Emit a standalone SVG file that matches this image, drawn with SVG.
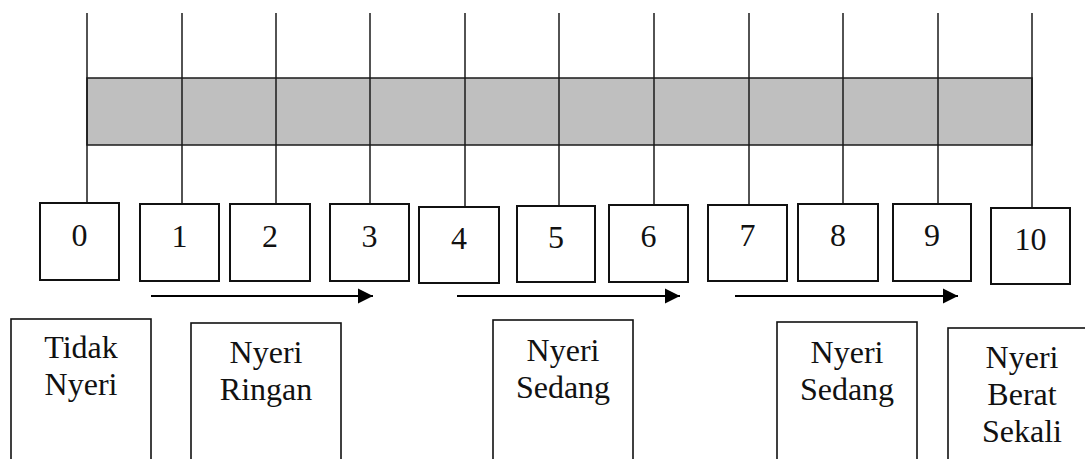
<svg xmlns="http://www.w3.org/2000/svg" width="1085" height="459" viewBox="0 0 1085 459">
  <style>
    .tick { stroke: #1a1a1a; stroke-width: 1.5; fill: none; }
    .band { fill: #bfbfbf; stroke: #1a1a1a; stroke-width: 1.5; }
    .num-box { fill: #ffffff; stroke: #111111; stroke-width: 2; }
    .cat-box { fill: #ffffff; stroke: #111111; stroke-width: 1.6; }
    .arrow { stroke: #000000; stroke-width: 2.2; fill: none; marker-end: url(#head); }
    .lbl { font-size: 32px; fill: #111111; text-anchor: middle; }
  </style>
  <defs>
    <marker id="head" markerUnits="userSpaceOnUse" markerWidth="16" markerHeight="16" refX="15" refY="8" orient="auto">
      <path d="M0,0.5 L15,8 L0,15.5 Z" fill="#000000"/>
    </marker>
  </defs>

  <!-- scale band -->
  <rect class="band" x="87" y="78" width="945" height="67"/>

  <!-- ticks from the top edge down to each number box, and the range arrows -->
  <g id="connectors">
    <line class="tick" x1="87" y1="13" x2="87" y2="203"/>
    <line class="tick" x1="182" y1="13" x2="182" y2="204"/>
    <line class="tick" x1="276" y1="13" x2="276" y2="204"/>
    <line class="tick" x1="370" y1="13" x2="370" y2="204"/>
    <line class="tick" x1="465" y1="13" x2="465" y2="207"/>
    <line class="tick" x1="559" y1="13" x2="559" y2="206"/>
    <line class="tick" x1="654" y1="13" x2="654" y2="205"/>
    <line class="tick" x1="749" y1="13" x2="749" y2="205"/>
    <line class="tick" x1="843" y1="13" x2="843" y2="204"/>
    <line class="tick" x1="938" y1="13" x2="938" y2="204"/>
    <line class="tick" x1="1032" y1="13" x2="1032" y2="208"/>
    <line class="arrow" x1="151" y1="296" x2="373" y2="296"/>
    <line class="arrow" x1="457" y1="296" x2="680" y2="296"/>
    <line class="arrow" x1="735" y1="296" x2="958" y2="296"/>
  </g>

  <!-- all labels share one serif face -->
  <g style="font-family: 'Liberation Serif', 'DejaVu Serif', serif">
    <!-- number boxes -->
    <g id="n0"><rect class="num-box" x="40" y="203" width="79" height="77"/><text class="lbl" x="79.5" y="246">0</text></g>
    <g id="n1"><rect class="num-box" x="140" y="204" width="79" height="77"/><text class="lbl" x="179.5" y="247">1</text></g>
    <g id="n2"><rect class="num-box" x="230" y="204" width="80" height="77"/><text class="lbl" x="270" y="247">2</text></g>
    <g id="n3"><rect class="num-box" x="330" y="204" width="79" height="77"/><text class="lbl" x="369.5" y="247">3</text></g>
    <g id="n4"><rect class="num-box" x="419" y="207" width="80" height="76"/><text class="lbl" x="459" y="249">4</text></g>
    <g id="n5"><rect class="num-box" x="517" y="206" width="78" height="76"/><text class="lbl" x="556" y="248">5</text></g>
    <g id="n6"><rect class="num-box" x="609" y="205" width="79" height="77"/><text class="lbl" x="648.5" y="247">6</text></g>
    <g id="n7"><rect class="num-box" x="708" y="205" width="79" height="76"/><text class="lbl" x="747.5" y="246">7</text></g>
    <g id="n8"><rect class="num-box" x="798" y="204" width="80" height="77"/><text class="lbl" x="838" y="246">8</text></g>
    <g id="n9"><rect class="num-box" x="893" y="204" width="78" height="77"/><text class="lbl" x="932" y="246">9</text></g>
    <g id="n10"><rect class="num-box" x="991" y="208" width="79" height="76"/><text class="lbl" x="1030.5" y="250">10</text></g>

    <!-- category boxes (open at the bottom edge) -->
    <g id="c-tidak">
      <rect class="cat-box" x="11" y="319" width="140" height="160"/>
      <text class="lbl" x="81" y="358">Tidak</text>
      <text class="lbl" x="81" y="395">Nyeri</text>
    </g>
    <g id="c-ringan">
      <rect class="cat-box" x="191" y="323" width="150" height="160"/>
      <text class="lbl" x="266" y="363">Nyeri</text>
      <text class="lbl" x="266" y="400">Ringan</text>
    </g>
    <g id="c-sedang-a">
      <rect class="cat-box" x="493" y="320" width="140" height="160"/>
      <text class="lbl" x="563" y="361">Nyeri</text>
      <text class="lbl" x="563" y="398">Sedang</text>
    </g>
    <g id="c-sedang-b">
      <rect class="cat-box" x="777" y="322" width="140" height="160"/>
      <text class="lbl" x="847" y="363">Nyeri</text>
      <text class="lbl" x="847" y="400">Sedang</text>
    </g>
    <g id="c-berat">
      <rect class="cat-box" x="948" y="328" width="150" height="160"/>
      <text class="lbl" x="1022" y="368">Nyeri</text>
      <text class="lbl" x="1022" y="405">Berat</text>
      <text class="lbl" x="1022" y="442">Sekali</text>
    </g>
  </g>
</svg>
